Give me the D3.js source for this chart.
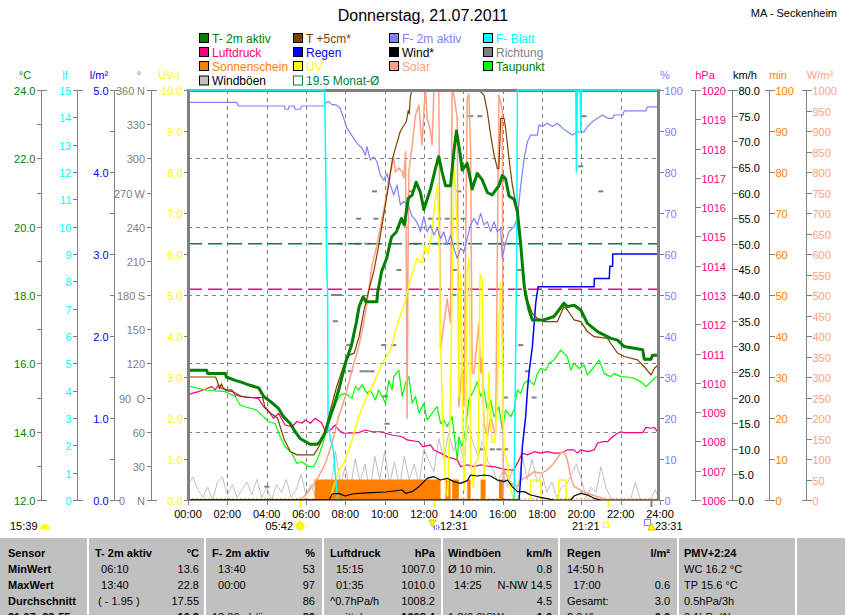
<!DOCTYPE html>
<html>
<head>
<meta charset="utf-8">
<script src="https://d3js.org/d3.v7.min.js"></script>
<style>
body { margin:0; background:#fff; }
text { font-family: Arial, "Liberation Sans", sans-serif; font-size:11px; white-space:pre; }
</style>
</head>
<body>
<script>

// ---- data: [hour, value] ----

var t2m = [[0,15.8],[0.95,15.8],[1.0,15.7],[1.9,15.7],[1.95,15.6],[2.4,15.5],[2.7,15.45],[3.2,15.35],[3.6,15.28],[3.85,15.03],[4.2,14.88],[4.6,14.68],[4.85,14.44],[5.2,14.24],[5.45,14.0],[5.7,13.8],[6.2,13.63],[6.55,13.63],[6.7,13.7],[6.95,13.95],[7.2,14.4],[7.45,14.8],[7.7,15.3],[8.05,16.1],[8.3,16.5],[8.55,17.17],[8.7,17.66],[8.9,17.95],[9.05,17.8],[9.6,17.8],[9.65,18.1],[9.85,18.7],[10.1,19.07],[10.35,19.7],[10.6,19.85],[10.85,20.24],[11.0,20.05],[11.2,20.83],[11.4,20.93],[11.6,21.3],[11.75,21.1],[11.82,21.0],[11.99,20.5],[12.33,21.1],[12.58,21.7],[12.75,22.05],[12.92,21.6],[13.09,21.2],[13.35,21.2],[13.52,22.2],[13.65,22.8],[13.82,22.2],[13.94,21.66],[14.2,21.85],[14.45,21.1],[14.71,21.56],[14.96,21.37],[15.22,21.0],[15.47,20.93],[15.81,21.2],[15.98,21.5],[16.15,21.4],[16.32,20.9],[16.58,20.8],[16.75,20.44],[16.92,19.46],[17.09,18.3],[17.17,18.0],[17.34,17.56],[17.51,17.27],[18.1,17.27],[18.61,17.37],[19.12,17.76],[19.29,17.66],[19.63,17.7],[19.97,17.56],[20.31,17.17],[20.82,16.93],[21.5,16.73],[21.84,16.68],[22.18,16.49],[23.12,16.4],[23.2,16.12],[23.54,16.12],[23.62,16.24],[23.9,16.24]];

var t5cm = [[0,15.6],[1.4,15.6],[1.5,15.46],[1.6,15.25],[1.7,15.4],[1.8,15.27],[1.95,15.2],[2.3,15.17],[2.65,15.05],[3.0,15.0],[3.8,15.0],[3.9,14.73],[4.2,14.54],[4.55,14.4],[4.9,13.76],[5.2,13.42],[5.55,13.32],[6.4,13.32],[6.65,13.56],[6.9,13.85],[7.2,14.54],[7.55,15.3],[7.9,15.9],[8.2,16.24],[8.45,16.3],[8.7,16.78],[8.95,17.56],[9.2,18.15],[9.45,18.7],[9.7,19.46],[9.95,20.34],[10.2,21.2],[10.4,22.0],[10.55,22.3],[10.8,22.8],[11.1,23.07],[11.2,23.4],[11.25,23.3],[11.3,23.75],[11.45,24.3],[12.5,25.5],[13.7,26.0],[14.6,24.5],[14.79,24.0],[14.88,23.95],[15.05,23.85],[15.22,23.37],[15.39,22.68],[15.56,22.1],[15.73,21.7],[15.81,21.7],[15.9,23.17],[16.07,23.17],[16.15,22.88],[16.32,22.0],[16.49,21.22],[16.75,20.44],[16.92,19.46],[17.09,18.3],[17.26,17.85],[17.51,17.46],[17.76,17.32],[18.1,17.22],[18.78,17.22],[19.12,17.66],[19.29,17.56],[19.63,17.27],[19.97,17.22],[20.31,16.93],[20.65,16.78],[21.33,16.73],[21.5,16.58],[21.84,16.3],[22.18,16.2],[22.86,16.1],[23.2,15.9],[23.54,15.66],[23.71,15.85],[23.9,15.95]];

var dewPoint = [[0,15.34],[0.87,15.22],[1.89,15.17],[2.4,15.03],[2.65,14.78],[2.9,14.73],[3.5,14.63],[3.84,14.44],[4.09,14.29],[4.43,14.24],[4.69,13.85],[4.94,13.56],[5.28,13.37],[5.54,13.07],[5.79,13.12],[6.13,12.98],[6.39,12.98],[6.56,13.17],[6.81,13.56],[7.15,14.24],[7.49,14.83],[7.75,15.07],[8.0,15.12],[8.34,14.98],[8.51,15.32],[8.68,15.22],[8.85,15.37],[9.1,15.12],[9.27,15.22],[9.53,14.93],[9.7,15.22],[9.87,15.03],[10.04,14.83],[10.21,15.51],[10.38,15.22],[10.46,15.61],[10.72,15.8],[10.89,15.03],[11.06,15.42],[11.23,15.61],[11.4,14.83],[11.57,15.03],[11.74,14.54],[11.82,14.63],[11.99,14.83],[12.16,14.34],[12.41,14.54],[12.67,14.73],[12.84,14.24],[13.01,14.34],[13.18,14.15],[13.43,14.44],[13.69,13.17],[13.77,13.85],[13.94,13.56],[14.11,14.05],[14.28,14.93],[14.54,15.22],[14.71,15.46],[14.88,15.03],[15.05,15.22],[15.22,14.63],[15.39,14.93],[15.56,14.44],[15.81,14.73],[15.98,14.05],[16.15,14.63],[16.41,14.44],[16.58,14.63],[16.75,15.22],[16.92,15.12],[17.09,15.42],[17.34,15.51],[17.6,15.37],[17.76,15.7],[17.93,15.85],[18.19,15.8],[18.36,16.0],[18.61,16.1],[18.78,16.24],[18.95,16.39],[19.12,16.29],[19.29,16.2],[19.46,15.8],[19.63,16.0],[19.89,15.85],[20.14,15.95],[20.31,15.66],[20.65,15.9],[20.91,16.1],[21.16,15.7],[21.5,15.61],[21.67,15.7],[22.01,15.61],[22.35,15.6],[22.69,15.56],[23.03,15.46],[23.29,15.32],[23.54,15.46],[23.79,15.6],[23.9,15.61]];

var pressure = [[0,1009.59],[0.19,1009.64],[0.53,1009.7],[0.87,1009.78],[1.21,1009.87],[1.38,1009.76],[1.55,1009.93],[1.72,1009.81],[1.97,1009.76],[2.22,1009.76],[2.39,1009.59],[2.73,1009.53],[3.07,1009.51],[3.58,1009.47],[3.84,1009.19],[4.18,1008.96],[4.35,1008.79],[4.6,1008.96],[4.94,1008.56],[5.28,1008.5],[5.54,1008.68],[5.79,1008.62],[5.96,1008.73],[6.22,1008.62],[6.47,1008.79],[6.81,1008.62],[6.98,1008.33],[7.24,1008.39],[7.49,1008.56],[7.66,1008.39],[7.91,1008.28],[8.68,1008.3],[9.02,1008.39],[9.36,1008.33],[9.87,1008.33],[10.04,1008.28],[10.38,1008.22],[10.89,1008.16],[11.14,1008.05],[11.74,1007.99],[11.91,1007.84],[11.99,1007.82],[12.33,1007.88],[12.5,1007.71],[12.84,1007.6],[13.18,1007.48],[13.69,1007.37],[13.86,1007.14],[14.2,1007.2],[14.54,1007.14],[14.88,1007.2],[15.22,1007.16],[15.56,1007.14],[15.9,1007.08],[16.24,1007.03],[16.58,1007.03],[16.83,1007.37],[17.0,1007.6],[17.26,1007.54],[17.6,1007.65],[17.93,1007.6],[18.27,1007.65],[18.61,1007.6],[18.95,1007.6],[19.29,1007.71],[19.63,1007.71],[19.8,1007.6],[19.97,1007.71],[20.31,1007.65],[20.65,1007.71],[20.82,1007.94],[21.08,1007.99],[21.33,1007.99],[21.59,1008.16],[21.84,1008.28],[22.01,1008.33],[22.18,1008.3],[23.12,1008.3],[23.29,1008.48],[23.54,1008.45],[23.71,1008.48],[23.88,1008.33]];

var humidity = [[0,97],[2.48,97],[2.56,96.1],[4.9,96.1],[4.94,95.3],[5.1,95.3],[5.15,96.1],[5.4,96.1],[5.45,95.3],[5.7,95.3],[5.79,96.1],[6.9,96.1],[6.98,96.8],[7.15,97.2],[7.3,96.5],[7.55,96.3],[7.74,95.5],[7.92,93.1],[8.08,90.7],[8.25,89.5],[8.42,88.2],[8.6,87],[8.85,85.8],[9.02,84.1],[9.1,86.2],[9.27,82.9],[9.44,83.7],[9.61,82.5],[9.78,79.3],[9.95,78],[10.12,79.6],[10.29,76.8],[10.46,74.4],[10.63,76.8],[10.8,72],[10.97,72.8],[11.23,71.5],[11.4,69.1],[11.57,68.3],[11.74,66.7],[11.82,65.4],[11.99,69.1],[12.16,65.4],[12.33,67.1],[12.5,64.6],[12.67,66.3],[12.84,63.8],[13.01,65.4],[13.18,62.2],[13.35,64.6],[13.52,61.4],[13.69,58.9],[13.86,61.4],[14.03,60.6],[14.2,63.8],[14.37,67.1],[14.54,68.7],[14.71,67.1],[14.88,69.9],[15.05,67.1],[15.22,67.9],[15.39,65.4],[15.56,67.9],[15.73,65.4],[15.9,66.3],[15.98,58.9],[16.15,62.9],[16.32,65.4],[16.58,66.7],[16.75,68.7],[16.92,76.8],[17.09,83.3],[17.26,87.4],[17.43,89],[17.76,89],[17.85,91.5],[18.02,91.1],[18.27,91.9],[18.53,91.1],[18.78,91.9],[19.04,90.7],[19.29,89.8],[19.55,89],[19.8,89.8],[20.14,89.8],[20.31,91.1],[20.57,92.3],[20.82,93.1],[21.08,93.9],[21.33,93.1],[21.59,93.1],[21.67,93.9],[22.1,93.9],[22.18,94.9],[23.28,94.9],[23.37,95.9],[23.9,95.9]];

var leafWet = [[0,15],[6.95,15],[7.0,12.3],[7.05,8.7],[7.1,7.5],[7.12,2.8],[7.25,2.2],[7.4,1.8],[7.5,0.85],[7.62,0],[16.58,0],[16.72,9.5],[16.75,15],[19.72,15],[19.75,12.0],[19.8,15],[19.94,15],[19.97,13.5],[20.01,15],[23.9,15]];

var rain = [[0,0],[16.83,0],[16.92,0.28],[17.0,0.65],[17.17,1.02],[17.26,1.34],[17.34,1.55],[17.51,1.87],[17.6,2.15],[17.68,2.4],[17.8,2.6],[20.65,2.6],[20.66,2.7],[21.42,2.7],[21.45,2.85],[21.59,2.85],[21.6,3.0],[23.9,3.0]];

var wind = [[0,0],[7.18,0],[7.32,1.17],[7.66,1.3],[8.0,0.78],[8.34,1.17],[8.68,1.3],[9.36,1.43],[10.04,1.56],[10.89,1.95],[11.06,1.3],[11.4,1.63],[11.74,2.6],[12.0,3.58],[12.16,4.23],[12.5,4.55],[12.84,3.9],[13.18,4.23],[13.52,3.58],[13.86,3.25],[14.2,3.77],[14.37,4.88],[14.71,4.68],[15.05,4.88],[15.39,4.68],[15.73,3.9],[16.07,3.58],[16.24,3.9],[16.49,2.6],[16.75,1.63],[17.09,1.63],[17.42,0.98],[17.93,0.52],[18.61,0],[19.46,0],[19.63,0.78],[19.97,1.3],[20.31,0.98],[20.65,0.33],[20.99,0],[23.9,0]];

// gusts every 15 minutes from 00:00
var gusts = [3.0,4.5,2.0,0.5,2.5,0,3.5,4.5,1.0,3.0,0.5,2.0,3.5,1.0,4.0,0.5,2.5,0,3.0,1.5,4.0,0.5,2.0,5.0,1.0,3.0,0.5,2.5,4.0,
  2.0,9.5,3.0,6.5,2.0,8.0,3.5,7.0,1.5,8.5,4.0,9.5,3.0,7.5,2.5,8.5,4.0,7.0,3.0,10.0,
  7.5,5.5,12.0,8.0,13.0,9.5,12.0,8.0,14.5,11.0,8.5,11.5,7.5,6.0,3.5,5.5,2.5,6.0,2.0,8.5,4.0,8.0,3.5,5.0,1.5,3.5,0.5,2.5,3.0,5.0,7.0,4.0,0.5,2.5,1.5,6.5,2.5,0.3,0,0,0,0,3.5,0,0,0,2.0,0];

// sunshine minutes per 5 min, step values
var sunshine = [[0,0],[6.44,5],[12.84,0],[13.09,5],[13.35,0],[13.43,5],[13.77,0],[14.2,5],[14.37,0],[14.88,5],[15.13,0],[15.81,5],[16.03,0],[24,0]];

var uvIndex = [[0,0],[7.2,0],[7.35,0.24],[7.66,0.69],[8.0,0.98],[8.34,1.46],[8.68,2.03],[9.02,2.44],[9.36,2.76],[9.87,3.33],[10.21,3.58],[10.4,3.8],[10.55,4.15],[10.89,4.63],[11.06,4.88],[11.23,5.24],[11.48,5.65],[11.65,5.9],[11.8,5.8],[11.91,5.8],[12.04,6.2],[12.2,6.0],[12.4,6.5],[12.5,7.0],[12.67,7.7],[12.75,6.9],[12.84,3.9],[12.95,2.0],[13.1,0.24],[13.2,0.1],[13.35,2.5],[13.45,6.0],[13.52,8.1],[13.6,7.6],[13.69,6.5],[13.78,2.5],[13.86,5.5],[13.94,3.25],[14.03,0.24],[14.1,0.8],[14.2,5.6],[14.3,5.9],[14.37,1.0],[14.5,0.3],[14.6,0.9],[14.75,1.0],[14.85,5.5],[14.96,5.4],[15.05,0.5],[15.15,1.0],[15.22,1.9],[15.3,3.1],[15.38,1.9],[15.47,1.4],[15.6,1.4],[15.73,2.5],[15.81,4.3],[15.9,5.3],[15.98,3.5],[16.07,1.2],[16.24,0.9],[16.41,0.24],[16.58,0],[17.4,0],[17.43,0.49],[17.93,0.49],[17.96,0],[18.85,0],[18.87,0.49],[19.21,0.49],[19.24,0],[24,0]];

var solar = [[0,0],[5.62,0],[5.9,8],[6.3,32],[6.64,57],[6.98,89],[7.32,138],[7.66,203],[8.0,252],[8.34,317],[8.68,374],[8.93,431],[9.1,480],[9.36,573],[9.61,622],[9.87,687],[10.04,728],[10.21,785],[10.38,817],[10.46,835],[10.55,800],[10.72,810],[10.89,801],[10.97,785],[11.06,850],[11.11,520],[11.14,199],[11.19,600],[11.23,800],[11.4,866],[11.57,939],[11.74,963],[11.9,866],[12.07,1010],[12.16,931],[12.33,900],[12.41,866],[12.5,996],[12.75,1010],[12.84,366],[13.01,431],[13.18,490],[13.35,431],[13.43,1000],[13.52,988],[13.69,931],[13.77,228],[13.94,325],[14.03,228],[14.2,980],[14.28,990],[14.37,850],[14.45,309],[14.54,309],[14.79,431],[14.88,309],[14.96,350],[15.05,187],[15.22,154],[15.39,203],[15.56,171],[15.64,160],[15.81,988],[15.98,950],[16.03,10],[16.07,73],[16.24,57],[16.41,41],[16.75,33],[16.92,49],[17.26,57],[17.6,69],[17.93,65],[18.27,73],[18.61,90],[18.95,114],[19.12,118],[19.29,98],[19.46,57],[19.63,33],[19.97,24],[20.31,16],[20.82,8],[21.16,4],[21.33,0],[24,0]];

// wind direction samples [hour, degrees]
var direction = [[4.01,11.7],[7.4,180],[7.49,180],[7.7,180],[7.49,157],[7.75,225],[8.17,136],[8.25,113],[8.6,225],[8.68,247],[8.85,113],[9.1,225],[9.1,113],[9.36,113],[9.48,271],[9.56,247],[9.95,136],[10.04,91],[10.12,67],[10.46,136],[10.72,202],[11.31,271],[11.57,225],[12.33,247],[12.58,225],[12.75,247],[13.09,225],[13.18,247],[13.52,247],[13.52,180],[13.6,202],[13.77,271],[13.99,247],[14.37,337],[14.84,337],[14.96,44.5],[15.47,44.5],[15.8,225],[15.81,44.5],[16.15,44.5],[16.15,90],[16.2,225],[16.83,202],[16.92,136],[17.26,113],[17.6,90],[19.97,293],[20.14,337],[20.99,271]];

var monthMeanT = 19.5;
var monthMeanP = 1013.2;

var xTickHours = [0,2,4,6,8,10,12,14,16,18,20,22,24];
var xTickLabels = ["00:00","02:00","04:00","06:00","08:00","10:00","12:00","14:00","16:00","18:00","20:00","22:00","24:00"];

var legendLabels = [["T- 2m aktiv","Luftdruck","Sonnenschein","Windböen"],["T +5cm*","Regen","UV","19.5 Monat-Ø"],["F- 2m aktiv","Wind*","Solar"],["F- Blatt","Richtung","Taupunkt"]];
var legendBox = [["#008000","#FF0080","#FF8000","#C0C0C0"],["#804000","#0000FF","#FFFF00","none"],["#8080FF","#000000","#FFA080"],["#00FFFF","#808080","#00FF00"]];
var legendText = [["#008000","#FF0080","#FF8000","#000000"],["#804000","#0000FF","#FFFF00","#008040"],["#8080FF","#000000","#FFA080"],["#00FFFF","#808080","#008000"]];

var tableHead = [["Sensor",""],["T- 2m aktiv","°C"],["F- 2m aktiv","%"],["Luftdruck","hPa"],["Windböen","km/h"],["Regen","l/m²"],["PMV+2:24",""]];
var tableRows = [
  [["MinWert",""],["  06:10","13.6"],["  13:40","53"],["  15:15","1007.0"],["Ø 10 min.","0.8"],["14:50 h",""],["WC 16.2 °C",""]],
  [["MaxWert",""],["  13:40","22.8"],["  00:00","97"],["  01:35","1010.0"],["  14:25","N-NW 14.5"],["  17:00","0.6"],["TP 15.6 °C",""]],
  [["Durchschnitt",""],[" ( - 1.95 )","17.55"],["","86"],["^0.7hPa/h","1008.2"],["","4.5"],["Gesamt:","3.0"],["0.5hPa/3h",""]],
  [["21.07.-22:55",""],["","16.3"],["13:36 ob/ä","86"],["  mittel","1008.4"],["1.8(6.6)SW","1.6"],["2.0 l/h","0.0"],["0.1hPa/1h",""]]
];

// ---- layout ----
var L = 188, R = 658, T = 90, B = 500;
var gray = "#808080";

var svg = d3.select("body").append("svg")
    .attr("width", 845).attr("height", 615)
    .style("display", "block");

var x = d3.scaleLinear().domain([0,24]).range([188,660]);
var yT = d3.scaleLinear().domain([12,24]).range([B,T]);
var yLf = d3.scaleLinear().domain([0,15]).range([B,T]);
var yRain = d3.scaleLinear().domain([0,5]).range([B,T]);
var yDir = d3.scaleLinear().domain([0,360]).range([B,T]);
var yUV = d3.scaleLinear().domain([0,10]).range([B,T]);
var yRH = d3.scaleLinear().domain([0,100]).range([B,T]);
var yP = d3.scaleLinear().domain([1006,1020]).range([B,T]);
var yWind = d3.scaleLinear().domain([0,80]).range([B,T]);
var ySun = d3.scaleLinear().domain([0,100]).range([B,T]);
var ySolar = d3.scaleLinear().domain([0,1000]).range([B,T]);

// title
svg.append("text").attr("x", 423).attr("y", 21).attr("text-anchor","middle")
   .style("font-size","16px").text("Donnerstag, 21.07.2011");
svg.append("text").attr("x", 837).attr("y", 17).attr("text-anchor","end")
   .style("font-size","11px").text("MA - Seckenheim");

// legend
var legX = [199, 293, 389, 483], legY = [33, 47, 61, 75.5];
legendLabels.forEach(function(col, c) {
  col.forEach(function(lab, r) {
    svg.append("rect").attr("x", legX[c]+0.5).attr("y", legY[r]+0.5)
      .attr("width", 9).attr("height", 9)
      .attr("fill", legendBox[c][r])
      .attr("stroke", legendBox[c][r] == "none" ? "#008040" : "#000");
    svg.append("text").attr("x", legX[c]+13).attr("y", legY[r]+9.5)
      .style("font-size","12px").attr("fill", legendText[c][r]).text(lab);
  });
});

// plot background grid
var grid = svg.append("g").attr("stroke", gray).attr("stroke-dasharray","4,4")
   .attr("shape-rendering","crispEdges");
grid.selectAll("line.v").data(xTickHours.slice(1,-1)).enter().append("line")
   .attr("x1", function(d){ return Math.round(x(d))+0.5; })
   .attr("x2", function(d){ return Math.round(x(d))+0.5; })
   .attr("y1", T).attr("y2", B);
grid.selectAll("line.h").data([14,16,18,20,22]).enter().append("line")
   .attr("x1", L).attr("x2", R)
   .attr("y1", function(d){ return Math.round(yT(d))+0.5; })
   .attr("y2", function(d){ return Math.round(yT(d))+0.5; });

// clip for series
svg.append("clipPath").attr("id","plotclip").append("rect")
   .attr("x", L).attr("y", T).attr("width", R-L).attr("height", B-T);
var plot = svg.append("g").attr("clip-path","url(#plotclip)");

function lineOf(ys, curve) {
  return d3.line().x(function(d){ return x(d[0]); }).y(function(d){ return ys(d[1]); })
           .curve(curve || d3.curveLinear);
}
function drawLine(data, ys, color, w, curve) {
  plot.append("path").datum(data).attr("fill","none").attr("stroke", color)
      .attr("stroke-width", w).attr("stroke-linejoin","round").attr("d", lineOf(ys, curve));
}

// gusts
var gustPts = gusts.map(function(v,i){ return [i*0.25, v]; });
drawLine(gustPts, yWind, "#C0C0C0", 1);

// sunshine
plot.append("path").datum(sunshine).attr("fill","#FF8000")
   .attr("d", d3.area().x(function(d){ return x(d[0]); })
      .y0(B).y1(function(d){ return ySun(d[1]); }).curve(d3.curveStepAfter));
plot.append("line").attr("x1",L).attr("x2",R).attr("y1",B-1).attr("y2",B-1)
   .attr("stroke","#FF8000").attr("stroke-dasharray","2,2");

// wind direction marks
plot.selectAll("rect.dir").data(direction).enter().append("rect")
   .attr("x", function(d){ return x(d[0]) - 2.5; })
   .attr("y", function(d){ return yDir(d[1]) - 1; })
   .attr("width", 5).attr("height", 2).attr("fill", gray);

// monthly means
plot.append("line").attr("x1",L).attr("x2",R)
   .attr("y1", yT(monthMeanT)).attr("y2", yT(monthMeanT))
   .attr("stroke","#008040").attr("stroke-width",1.5).attr("stroke-dasharray","14,6");
plot.append("line").attr("x1",L).attr("x2",R)
   .attr("y1", yP(monthMeanP)).attr("y2", yP(monthMeanP))
   .attr("stroke","#FF0080").attr("stroke-width",1.5).attr("stroke-dasharray","14,6");

drawLine(pressure, yP, "#FF0080", 1.2);
drawLine(dewPoint, yT, "#00FF00", 1.2);
drawLine(solar, ySolar, "#FFA080", 1.5);
drawLine(uvIndex, yUV, "#FFFF00", 1.5);
drawLine(humidity, yRH, "#8080FF", 1.2);
drawLine(leafWet, yLf, "#00FFFF", 1.5);
drawLine(rain, yRain, "#0000FF", 1.5);
drawLine(wind, yWind, "#000000", 1.2);
drawLine(t5cm, yT, "#804000", 1.2);
drawLine(t2m, yT, "#008000", 3);

// frame
var frame = svg.append("g").attr("stroke", gray).attr("shape-rendering","crispEdges");
frame.append("line").attr("x1",L).attr("x2",L).attr("y1",T-1.5).attr("y2",B+1).attr("stroke-width",3);
frame.append("line").attr("x1",R).attr("x2",R).attr("y1",T-1.5).attr("y2",B+1).attr("stroke-width",3);
frame.append("line").attr("x1",L).attr("x2",R).attr("y1",T).attr("y2",T).attr("stroke-width",3);
frame.append("line").attr("x1",L).attr("x2",R).attr("y1",B+0.5).attr("y2",B+0.5).attr("stroke-width",1);
// leaf wetness at the very top goes over the frame
svg.append("clipPath").attr("id","topclip").append("rect")
   .attr("x", L).attr("y", T-1).attr("width", R-L).attr("height", 3);
svg.append("path").datum(leafWet).attr("fill","none").attr("stroke","#00FFFF").attr("stroke-width",1.5)
   .attr("d", lineOf(yLf)).attr("clip-path","url(#topclip)");

// x axis
frame.selectAll("line.xt").data(xTickHours).enter().append("line")
   .attr("x1", function(d){ return Math.round(x(d))+0.5; })
   .attr("x2", function(d){ return Math.round(x(d))+0.5; })
   .attr("y1", B).attr("y2", B+5).attr("stroke-width",1);
svg.selectAll("text.xl").data(xTickHours).enter().append("text")
   .attr("x", function(d){ return x(d); }).attr("y", 518).attr("text-anchor","middle")
   .text(function(d,i){ return xTickLabels[i]; });

// vertical axes
function drawAxis(ax, side, scale, ticks, fmt, color, skipLine) {
  var g = svg.append("g").attr("shape-rendering","crispEdges");
  var xp = Math.round(ax) + 0.5;
  if (!skipLine) g.append("line").attr("x1",xp).attr("x2",xp).attr("y1",T).attr("y2",B).attr("stroke",gray);
  var dom = scale.domain();
  ticks.forEach(function(v) {
    var yp = Math.round(scale(v)) + 0.5;
    var end = (v == dom[0] || v == dom[1]) && !skipLine;
    var x1 = side < 0 ? xp - 5 : xp, x2 = side < 0 ? xp : xp + 5;
    if (end) { x1 = xp - 5; x2 = xp + 5; }
    g.append("line").attr("x1",x1).attr("x2",x2).attr("y1",yp).attr("y2",yp).attr("stroke",gray);
    if (fmt) {
      svg.append("text").attr("x", side < 0 ? xp - 6 : xp + 6).attr("y", yp + 4)
        .attr("text-anchor", side < 0 ? "end" : "start").attr("fill", color).text(fmt(v));
    }
  });
}
var f1 = d3.format(".1f"), f0 = d3.format("d");
drawAxis(41, -1, yT, d3.range(12, 24.1, 1), null, "#008000");
drawAxis(41, -1, yT, d3.range(12, 24.1, 2), f1, "#008000");
drawAxis(77, -1, yLf, d3.range(0, 16, 1), f0, "#00FFFF");
drawAxis(114, -1, yRain, d3.range(0, 5.1, 0.5), null, "#0000FF");
drawAxis(114, -1, yRain, [0,1,2,3,4,5], f1, "#0000FF");
drawAxis(151, -1, yDir, d3.range(0, 361, 30), null, gray);
drawAxis(188, -1, yUV, d3.range(0, 10.1, 1), f1, "#FFFF00", true);
drawAxis(658, 1, yRH, d3.range(0, 101, 10), f0, "#8080FF", true);
drawAxis(695, 1, yP, d3.range(1006, 1020.1, 1), f0, "#FF0080");
drawAxis(732, 1, yWind, d3.range(0, 80.1, 5), f1, "#000000");
drawAxis(769, 1, ySun, d3.range(0, 101, 10), f0, "#FF8000");
drawAxis(806, 1, ySolar, d3.range(0, 1001, 50), f0, "#FFA080");

// direction labels with compass letters
var compass = {0:"N", 90:"O", 180:"S", 270:"W", 360:"N"};
var compassX = {0:119, 90:119, 180:117, 270:114, 360:116};
d3.range(0, 361, 30).forEach(function(v) {
  var yp = Math.round(yDir(v)) + 4.5;
  if (compass[v] !== undefined) {
    svg.append("text").attr("x", compassX[v]).attr("y", yp).attr("fill", gray).text(v);
    svg.append("text").attr("x", 145).attr("y", yp).attr("text-anchor","end").attr("fill", gray).text(compass[v]);
  } else {
    svg.append("text").attr("x", 145).attr("y", yp).attr("text-anchor","end").attr("fill", gray).text(v);
  }
});

// unit headers
var units = [["°C",25,"#008000"],["lf",65,"#00FFFF"],["l/m²",99,"#0000FF"],["°",139,gray],["UV-I",169,"#FFFF00"],
             ["%",665,"#8080FF"],["hPa",705,"#FF0080"],["km/h",745,"#000000"],["min",778,"#FF8000"],["W/m²",820,"#FFA080"]];
units.forEach(function(u) {
  svg.append("text").attr("x", u[1]).attr("y", 79).attr("text-anchor","middle").attr("fill", u[2]).text(u[0]);
});

// sun / moon events under the time axis
svg.append("text").attr("x", 10).attr("y", 530).text("15:39");
svg.append("path").attr("d","M40,529 a5,5 0 0,1 10,0 z").attr("fill","#FFFF00");
svg.append("text").attr("x", 293).attr("y", 530).attr("text-anchor","end").text("05:42");
var sx = Math.round(x(5.7)), sy = 526;
svg.append("circle").attr("cx", sx).attr("cy", sy).attr("r", 3.5).attr("fill","#FFFF00").attr("stroke","#E8E800");
d3.range(0, 360, 45).forEach(function(a) {
  var r = a * Math.PI / 180;
  svg.append("line").attr("x1", sx + 4.5*Math.cos(r)).attr("y1", sy + 4.5*Math.sin(r))
     .attr("x2", sx + 6.5*Math.cos(r)).attr("y2", sy + 6.5*Math.sin(r)).attr("stroke","#FFFF00");
});
svg.append("path").attr("d","M429,520 l7,0 l-3.5,7 z").attr("fill","#FFFF00").attr("stroke","#C8C800");
svg.append("rect").attr("x",434).attr("y",526).attr("width",5).attr("height",3).attr("fill","none")
   .attr("stroke","#0000FF").attr("stroke-dasharray","1,1");
svg.append("text").attr("x", 440).attr("y", 530).text("12:31");
svg.append("text").attr("x", 572).attr("y", 530).text("21:21");
svg.append("rect").attr("x",603.5).attr("y",522.5).attr("width",5).attr("height",5).attr("fill","none").attr("stroke","#FFFF00");
svg.append("rect").attr("x",644.5).attr("y",519.5).attr("width",6).attr("height",6).attr("fill","none")
   .attr("stroke","#0000FF").attr("stroke-dasharray","1,1");
svg.append("path").attr("d","M648,530 l3.5,-7 l3.5,7 z").attr("fill","#FFFF00").attr("stroke","#C8C800");
svg.append("text").attr("x", 655).attr("y", 530).text("23:31");
[[5.7,"#FFFF00"],[12.52,"#FFFF00"],[21.35,"#FFFF00"],[23.52,gray]].forEach(function(m) {
  svg.append("line").attr("x1", Math.round(x(m[0]))+0.5).attr("x2", Math.round(x(m[0]))+0.5)
     .attr("y1", B+1).attr("y2", B+7).attr("stroke", m[1]).attr("stroke-width", 2);
});

// summary table (last row is cut by the window edge, as in the original)
var tbl = svg.append("g");
tbl.append("rect").attr("x",0).attr("y",538).attr("width",845).attr("height",77).attr("fill","#C0C0C0");
var colL = [8, 95, 212, 330, 448, 567, 684];
var colR = [0, 199, 315, 435, 552, 670, 0];
var sepX = [87, 204, 322, 441, 558, 677, 795];
sepX.forEach(function(s) {
  tbl.append("rect").attr("x", s).attr("y", 538).attr("width", 2).attr("height", 77).attr("fill","#fff");
});
var rowY = [557, 573, 589, 605, 621];
tableHead.forEach(function(h, c) {
  tbl.append("text").attr("x", colL[c]).attr("y", rowY[0]).style("font-weight","bold").text(h[0]);
  if (h[1]) tbl.append("text").attr("x", colR[c]).attr("y", rowY[0]).attr("text-anchor","end")
               .style("font-weight","bold").text(h[1]);
});
tableRows.forEach(function(row, r) {
  row.forEach(function(cell, c) {
    tbl.append("text").attr("x", colL[c]).attr("y", rowY[r+1])
       .style("font-weight", c == 0 ? "bold" : "normal").text(cell[0]);
    if (cell[1]) tbl.append("text").attr("x", colR[c]).attr("y", rowY[r+1]).attr("text-anchor","end")
       .style("font-weight", r == 3 ? "bold" : "normal").text(cell[1]);
  });
});

</script>
</body>
</html>
